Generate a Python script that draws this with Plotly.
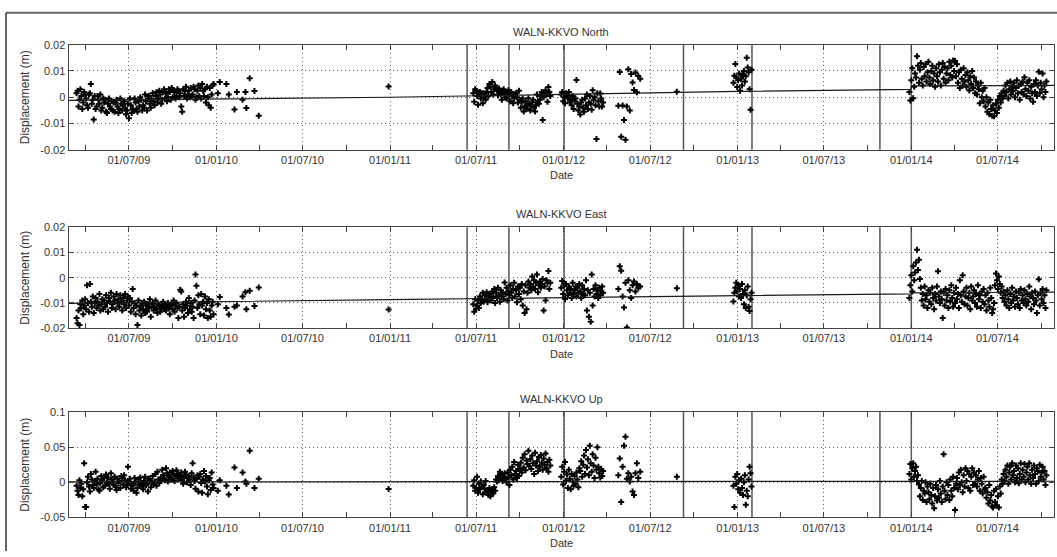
import pandas as pd
import plotly.graph_objects as go

# ---------------- DATA ----------------
# Epoch of each daily GPS solution, as day number counted from 2009-01-01
DAYS = [
    # 2009 block
    71,73,75,77,79,81,83,85,87,89,
    91,93,95,97,99,101,103,105,107,109,
    111,113,115,117,119,121,123,125,127,129,
    131,133,135,137,139,141,143,145,147,149,
    151,153,155,157,159,161,163,165,167,169,
    171,173,175,177,179,181,183,185,187,189,
    191,193,195,197,199,201,203,205,207,209,
    211,213,215,217,219,221,223,225,227,229,
    231,233,235,237,239,241,243,245,247,249,
    251,253,255,257,259,261,263,265,267,269,
    271,273,275,277,279,281,283,285,287,289,
    291,293,295,297,299,301,303,305,307,309,
    311,313,315,317,319,321,323,325,327,329,
    331,333,335,337,339,341,343,345,347,349,
    351,353,355,357,359,
    # early 2010, sparse
    368,372,386,391,403,408,420,426,428,435,445,454,
    # single epoch end 2010
    727,
    # mid/late 2011
    905,907,909,911,913,915,917,919,921,923,
    925,927,929,931,933,935,937,939,941,943,
    945,947,949,951,953,955,957,959,961,963,
    965,967,969,971,973,975,977,979,981,983,
    985,987,989,991,993,995,997,999,1001,1003,
    1005,1007,1009,1011,1013,1015,1017,1019,1021,1023,
    1025,1027,1029,1031,1033,1035,1037,1039,1041,1043,
    1045,1047,1049,1051,1053,1055,1057,1059,1061,1063,
    1065,1067,
    # early 2012
    1090,1092,1094,1096,1098,1100,1102,1104,1106,1108,
    1110,1112,1114,1116,1118,1120,1122,1124,1126,1128,
    1130,1132,1134,1136,1138,1140,1142,1144,1146,1148,
    1150,1152,1154,1156,1158,1160,1162,1164,1166,1168,
    1170,1172,1174,1176,1178,
    # May-June 2012
    1210,1213,1216,1219,1222,1225,1228,1231,1234,1237,1240,1243,1246,1249,1252,1256,
    # single epoch Aug 2012
    1333,
    # Jan 2013
    1452,1454,1456,1458,1460,1462,1464,1466,1468,1470,
    1472,1474,1476,1478,1480,1482,1484,1486,1488,1490,
    # 2014
    1822,1824,1826,1828,1830,1832,1834,1836,1838,1840,
    1842,1844,1846,1848,1850,1852,1854,1856,1858,1860,
    1862,1864,1866,1868,1870,1872,1874,1876,1878,1880,
    1882,1884,1886,1888,1890,1892,1894,1896,1898,1900,
    1902,1904,1906,1908,1910,1912,1914,1916,1918,1920,
    1922,1924,1926,1928,1930,1932,1934,1936,1938,1940,
    1942,1944,1946,1948,1950,1952,1954,1956,1958,1960,
    1962,1964,1966,1968,1970,1972,1974,1976,1978,1980,
    1982,1984,1986,1988,1990,1992,1994,1996,1998,2000,
    2002,2004,2006,2008,2010,2012,2014,2016,2018,2020,
    2022,2024,2026,2028,2030,2032,2034,2036,2038,2040,
    2042,2044,2046,2048,2050,2052,2054,2056,2058,2060,
    2062,2064,2066,2068,2070,2072,2074,2076,2078,2080,
    2082,2084,2086,2088,2090,2092,2094,2096,2098,2100,
    2102,2104,2106,2108,2110,
]

# Displacements in millimetres
NORTH_MM = [
    1.5,2.5,-3.5,-1.0,3.0,0.5,-4.5,-2.0,2.0,1.0,
    -0.5,-3.0,-4.0,1.0,1.5,5.0,-2.5,-1.0,-8.5,0.5,
    -4.5,-3.5,0.5,-1.0,-2.5,1.0,-5.0,-4.0,-0.5,-2.0,
    -1.0,-5.5,-6.0,-2.5,-0.5,-3.5,-4.5,-1.5,-5.0,-2.0,
    -5.5,-2.0,-1.0,-3.5,-6.0,-4.5,-0.5,-2.5,-5.0,-3.0,
    -1.5,-4.0,-6.5,-5.0,-2.5,-8.0,-0.5,-3.0,-6.0,-4.5,
    -5.0,-0.5,-2.0,-4.5,-5.5,-1.5,-3.5,0.0,-1.0,-5.0,
    -3.0,-4.0,1.0,-1.5,-5.0,-0.5,0.5,-2.5,-4.0,-1.0,
    1.5,-1.5,-3.0,0.5,2.0,-2.0,-0.5,2.5,1.0,-2.5,
    -1.0,2.0,3.0,-0.5,1.5,-1.5,0.0,3.0,2.0,-1.0,
    3.5,0.0,2.5,2.0,-0.5,0.5,3.0,2.5,0.0,1.5,
    -3.5,-5.5,3.0,0.5,2.5,4.0,-0.5,1.0,2.5,0.0,
    3.5,0.5,1.0,4.0,3.0,-1.0,0.0,2.5,4.5,0.5,
    3.5,-0.5,5.0,2.5,0.5,3.0,-2.0,4.0,0.0,-3.0,
    3.5,-4.0,1.0,4.5,5.0,
    1.5,5.8,5.0,1.0,-4.7,2.0,-1.0,2.0,-4.1,7.2,2.4,-7.0,
    4.1,
    1.5,-1.7,3.0,2.5,0.5,-2.9,1.0,2.0,-0.5,1.5,
    -2.3,1.5,0.0,-1.0,2.0,3.5,0.5,5.0,4.0,2.0,
    5.8,1.0,3.0,4.5,3.5,2.5,0.8,3.3,2.0,1.0,
    -1.0,2.5,3.0,1.5,0.0,-0.5,2.0,2.7,1.0,-1.5,
    2.0,0.5,-2.3,-0.5,1.0,1.5,0.0,-2.0,2.5,-1.0,
    -4.0,-2.0,-0.5,-5.4,-3.5,-1.5,-4.5,-3.0,-0.4,-2.5,
    -5.0,-3.5,-2.0,-1.0,-4.0,-5.4,-3.0,1.0,-1.5,-2.5,
    -1.0,0.5,2.0,-8.7,0.0,1.5,2.7,1.0,-1.7,3.9,
    2.0,0.5,
    1.0,2.0,-1.5,0.0,-2.3,1.5,0.5,-0.5,2.0,-2.0,
    -1.0,-3.0,0.5,-4.5,-1.5,-0.5,6.6,-2.5,-5.0,-3.5,
    -6.6,-2.0,-1.0,-4.0,-5.5,-0.5,-3.0,1.0,-4.5,-2.0,
    0.5,-2.5,-4.8,2.7,-1.0,0.0,-3.0,-15.9,1.5,-1.5,
    -3.5,1.4,-0.5,-3.5,-2.0,
    -3.2,9.6,-15.0,-3.1,-8.7,-16.2,-3.5,10.6,-5.0,8.8,5.6,2.8,9.4,1.9,8.1,7.0,
    2.1,
    5.5,8.2,12.6,7.5,3.9,6.5,9.0,2.5,7.0,4.5,
    8.5,10.0,6.0,8.0,15.0,11.3,9.5,3.0,-4.8,10.5,
    2.0,-1.2,6.5,11.0,-0.4,4.0,9.0,7.5,15.6,12.0,
    5.5,10.5,13.0,7.0,4.5,11.5,8.0,12.5,6.0,9.5,
    13.5,7.5,5.0,10.0,12.0,6.5,9.0,4.0,11.0,8.0,
    6.0,12.5,9.5,4.5,10.5,13.0,7.0,11.5,5.5,9.0,
    11.0,6.5,13.5,8.5,12.0,7.5,14.0,10.0,13.8,8.0,
    12.5,5.5,9.5,3.5,10.5,7.0,4.5,11.0,6.0,8.5,
    4.0,9.5,6.5,2.6,8.0,5.0,10.0,3.5,7.5,1.5,
    6.0,1.0,4.5,3.0,-2.3,5.5,0.0,2.5,-1.5,3.5,
    -3.5,0.0,-5.5,-2.0,-6.5,-1.0,-4.5,-7.0,-3.0,-7.2,
    -5.0,-2.5,-6.0,-1.0,-4.0,0.5,-2.0,1.5,-0.5,2.5,
    0.5,4.5,2.0,5.5,-0.5,3.0,6.0,1.0,4.0,2.5,
    5.5,0.0,3.5,6.5,1.5,4.5,-1.0,5.0,2.0,6.0,
    1.0,7.6,3.0,0.5,5.5,2.5,6.5,-0.5,4.0,1.5,
    -1.7,5.0,2.0,6.5,0.5,4.5,9.7,1.5,5.5,3.0,
    9.0,0.0,4.5,2.0,6.0,
]

EAST_MM = [
    -16.0,-18.0,-13.0,-18.7,-10.5,-12.0,-9.0,-14.5,-11.0,-8.5,
    -12.5,-3.0,-10.0,-13.5,-2.5,-9.5,-11.5,-7.5,-14.0,-10.0,
    -8.0,-12.0,-9.5,-11.0,-6.5,-13.0,-10.5,-8.5,-12.5,-9.0,
    -11.5,-7.0,-10.0,-13.5,-8.0,-9.5,-6.0,-12.0,-10.5,-7.5,
    -9.0,-12.5,-6.5,-10.0,-8.5,-11.5,-7.0,-9.5,-13.0,-8.0,
    -10.5,-6.5,-12.0,-9.0,-7.5,-11.0,-8.0,-13.5,-9.5,-4.5,
    -12.0,-10.0,-14.5,-11.0,-18.7,-9.0,-13.0,-11.5,-15.0,-10.0,
    -12.5,-9.5,-14.0,-11.0,-13.5,-10.5,-12.0,-8.5,-15.5,-11.5,
    -10.0,-13.0,-11.5,-9.0,-12.5,-14.0,-10.5,-11.0,-13.5,-12.0,
    -11.0,-9.5,-12.5,-10.5,-13.0,-11.5,-10.0,-12.0,-14.5,-11.0,
    -10.5,-12.5,-9.0,-13.5,-11.0,-10.0,-12.0,-16.0,-11.5,-4.8,
    -5.5,-13.0,-10.5,-15.5,-12.0,-9.5,-11.0,-14.0,-8.0,-12.5,
    -10.0,-13.5,-11.5,-16.0,-9.0,1.3,-3.2,-12.0,-7.0,-10.5,
    -14.5,-6.5,-11.0,-9.5,-15.0,-7.5,-12.5,-10.0,-16.0,-8.5,
    -13.0,-15.5,-11.0,-9.5,-14.5,
    -10.5,-7.7,-12.0,-14.6,-11.5,-11.0,-7.5,-5.8,-12.5,-5.2,-11.2,-3.9,
    -12.6,
    -10.5,-13.5,-8.5,-12.3,-11.0,-9.0,-12.0,-7.5,-10.0,-8.5,
    -6.0,-9.5,-7.0,-8.5,-5.8,-9.7,-7.5,-6.5,-8.0,-9.0,
    -5.5,-7.5,-4.5,-10.0,-6.0,-8.0,-4.0,-7.0,-9.5,-5.0,
    -7.5,-6.0,-8.5,-1.9,-6.5,-4.0,-9.0,-5.5,-7.0,-3.0,
    -6.0,-8.0,-4.5,-2.0,-7.5,-5.0,-9.7,-3.5,-6.5,-4.0,
    -8.5,-2.5,-11.0,-5.5,-14.0,-3.0,-12.5,-6.0,-1.5,-4.0,
    -2.5,-5.0,0.5,-3.5,-1.0,-4.5,-2.0,1.3,-5.8,-3.0,
    -1.5,-4.0,-2.5,-0.5,-13.0,-3.5,-9.0,-1.0,-2.0,2.6,
    -4.5,-2.0,
    -4.0,-1.3,-6.5,-3.0,-8.4,-2.5,-5.0,-7.0,-3.5,-6.0,
    -4.5,-8.0,-2.0,-6.5,-5.0,-3.5,-7.5,-4.0,-6.0,-2.5,
    -5.5,-8.0,-3.0,-6.5,-4.5,-7.0,-1.0,-13.0,-5.0,-15.5,
    -6.0,-17.4,1.3,-11.0,-4.5,-7.5,-3.0,-6.5,-5.0,-8.0,
    -4.0,-7.0,-5.5,-3.5,-6.0,
    -4.5,4.5,2.7,-7.5,-11.8,-2.0,-19.7,-1.0,-5.0,-8.0,-3.0,-1.5,-5.5,-2.5,-4.0,-3.5,
    -4.2,
    -9.4,-6.0,-4.0,-2.0,-5.5,-3.0,-7.5,-4.5,-8.0,-2.5,
    -6.5,-10.5,-5.0,-12.0,-7.0,-3.5,-11.5,-13.2,-8.5,-6.0,
    -8.0,-3.0,1.0,-5.5,4.5,-1.0,2.0,6.0,11.0,3.0,
    7.1,-0.5,-4.0,-9.0,-6.5,-11.0,-3.5,-8.5,-7.0,-12.0,
    -5.0,-9.5,-6.0,-10.5,-4.0,-8.0,-12.5,-6.5,-9.0,-3.5,
    2.5,-7.5,-10.0,-5.5,-8.5,-16.0,-6.0,-11.0,-4.5,-9.0,
    -7.0,-12.0,-5.0,-9.5,-3.0,-8.0,-11.5,-6.0,-10.0,-4.0,
    -8.5,-6.5,-12.0,-1.0,-7.0,-9.5,1.0,-5.5,-10.5,-7.5,
    -4.0,-11.0,-8.0,-6.0,-12.5,-3.5,-9.0,-7.5,-5.0,-10.0,
    -6.5,-11.5,-3.0,-8.5,-7.0,-12.0,-5.5,-9.5,-4.5,-10.5,
    -7.0,-13.0,-6.0,-9.0,-11.5,-4.0,-8.0,-14.0,-12.5,-10.0,
    -3.0,1.6,-1.0,-4.5,0.5,-2.5,-6.0,-3.5,-8.0,-5.5,
    -9.5,-7.0,-11.0,-5.0,-8.5,-12.0,-6.5,-10.0,-4.0,-9.0,
    -7.5,-11.5,-5.5,-8.0,-10.5,-6.0,-12.0,-4.5,-9.0,-7.0,
    -10.0,-5.0,-8.5,-11.0,-6.5,-9.5,-3.5,-7.5,-12.5,-6.0,
    -8.0,-10.5,-5.5,-9.0,-14.0,-7.0,-0.6,-11.0,-6.0,-8.5,
    -4.5,-10.0,-7.0,-12.0,-5.0,
]

UP_MM = [
    -5,-12,-18,3,-8,-2,-20,-10,27,-35,
    -35,0,8,-6,-13,12,4,-4,-8,2,
    15,-3,5,-10,-12,-1,9,3,-7,6,
    -5,11,0,7,-2,-9,13,4,1,-4,
    8,-6,-11,5,-1,2,-8,9,6,-3,
    10,3,-7,-4,22,1,5,-9,-2,-5,
    -12,6,0,-15,-8,4,-3,7,-1,-6,
    -10,2,8,-4,-2,-13,5,3,-7,0,
    9,-3,1,12,-5,15,4,-1,2,7,
    18,10,5,3,20,13,1,8,14,6,
    4,16,11,2,9,17,12,5,7,10,
    14,3,-2,8,15,11,0,6,9,4,
    -4,13,27,7,2,-9,5,10,-13,8,
    12,-1,-15,4,16,1,9,-6,-17,3,
    6,-11,14,-3,-8,
    -12,3,-5,-17.5,21,-8,14,1,-2,45,-8,5,
    -9.4,
    -5,3,-12,-8,8,-15,-2,-10,1,-6,
    -17,-4,-9,2,-14,-11,-18,-8,-20,-13,
    -10,-16,-7,-12,4,1,9,3,15,6,
    11,2,8,13,5,0,14,7,-4,18,
    10,22,4,29,12,16,6,25,9,19,
    28,14,35,21,40,17,31,26,45,23,
    33,19,38,27,12,42,24,30,16,36,
    22,39,28,18,34,25,41,20,29,15,
    32,24,
    8,22,-3,15,29,2,11,-8,18,5,
    -10,12,1,-5,9,-2,14,4,-7,20,
    16,30,8,25,38,12,46,21,33,10,
    52,27,15,40,24,6,35,18,50,22,
    13,7,19,9,16,
    10,34,-28,22,52,65,5,13,1,8,-13,-18,13,27,6,15,
    8,
    -5,-35,8,-2,12,-10,3,-15,5,-8,
    -18,0,10,-32,-12,-20,4,22,13,-6,
    12,26,4,20,27,8,16,22,2,10,
    -3,-20,-8,2,-25,-12,-16,0,-28,-6,
    -14,-24,-2,-18,-30,-8,-37,-20,-4,-26,
    -10,-22,2,-16,-28,-6,40,-12,-24,0,
    -18,-4,-25,4,-12,-20,8,-8,-39.5,-2,
    6,-10,14,-4,18,0,-14,10,-6,20,
    2,16,-8,12,-12,8,20,-4,14,-2,
    10,-6,4,16,-12,6,-2,-16,8,-10,
    -8,-22,-14,-30,-4,-26,-18,-34,-36,-12,
    -28,-10,-33,-20,-36,-6,-16,4,-2,12,
    2,18,8,24,-2,14,22,4,27,10,
    16,0,24,6,20,-1.4,12,27,4,18,
    8,26,0,14,22,4,27,10,-2,18,
    6,24,12,-2,20,16,2,25,8,14,
    22,4,16,-4,10,
]

# Fitted trend (mm) at break days
TREND_DAYS = [55, 365, 730, 1095, 1461, 1825, 1826, 2126]
TREND_NORTH_MM = [-1.2, -0.7, 0.0, 1.1, 2.2, 3.0, 4.3, 4.5]
TREND_EAST_MM = [-10.2, -9.4, -8.7, -7.9, -7.2, -6.4, -6.0, -5.7]
TREND_UP_MM = [0.5, 0.7, 0.8, 1.0, 1.2, 1.4, 1.4, 1.5]

# Equipment-change epochs (vertical lines)
EVENT_DATES = ["2011-06-12", "2011-09-08", "2012-01-02", "2012-09-09",
               "2013-01-31", "2013-10-27", "2014-01-01"]

TITLES = ["WALN-KKVO North", "WALN-KKVO East", "WALN-KKVO Up"]
Y_TICKVALS = [[-0.02, -0.01, 0, 0.01, 0.02],
              [-0.02, -0.01, 0, 0.01, 0.02],
              [-0.05, 0, 0.05, 0.1]]
Y_TICKTEXT = [["-0.02", "-0.01", "0", "0.01", "0.02"],
              ["-0.02", "-0.01", "0", "0.01", "0.02"],
              ["-0.05", "0", "0.05", "0.1"]]
Y_RANGES = [[-0.02, 0.02], [-0.02, 0.02], [-0.05, 0.1]]
X_RANGE = ["2009-02-24", "2014-10-28"]

assert len(DAYS) == len(NORTH_MM) == len(EAST_MM) == len(UP_MM)

# ---------------- FIGURE ----------------
W, H = 1057, 557
EPOCH = pd.Timestamp("2009-01-01")
dates = EPOCH + pd.to_timedelta(DAYS, unit="D")
tdates = EPOCH + pd.to_timedelta(TREND_DAYS, unit="D")

def px_x(p):
    return p / W

def px_y(p):
    return 1 - p / H

FONT = dict(family="Liberation Sans, Arial, sans-serif", size=11, color="#333333")
AX_COLOR = "#444444"
GRID = dict(showgrid=True, gridcolor="#666666", griddash="1px,3px", gridwidth=1)

# panel pixel boxes (top, bottom)
PANELS = [(39.5, 147.0), (226.0, 329.3), (415.0, 522.7)]
XDOM = [px_x(68.5), px_x(1054)]

fig = go.Figure()
series = [NORTH_MM, EAST_MM, UP_MM]
trends = [TREND_NORTH_MM, TREND_EAST_MM, TREND_UP_MM]

layout = dict(width=W, height=H, margin=dict(l=0, r=0, t=0, b=0),
              paper_bgcolor="white", plot_bgcolor="white", showlegend=False,
              font=FONT)
shapes, annotations = [], []

for i in range(3):
    sfx = "" if i == 0 else str(i + 1)
    xa, ya = "x" + sfx, "y" + sfx
    top, bot = PANELS[i]
    fig.add_trace(go.Scatter(
        x=dates, y=[v / 1000 for v in series[i]], mode="markers",
        marker=dict(symbol="cross", size=5, color="black",
                    line=dict(width=0)),
        xaxis=xa, yaxis=ya, hoverinfo="skip"))
    fig.add_trace(go.Scatter(
        x=tdates, y=[v / 1000 for v in trends[i]], mode="lines",
        line=dict(color="#1a1a1a", width=1.2), xaxis=xa, yaxis=ya,
        hoverinfo="skip"))
    layout["xaxis" + sfx] = dict(
        domain=XDOM, anchor=ya, type="date", range=X_RANGE,
        tickformat="%d/%m/%y", dtick="M6", tick0="2009-01-01",
        ticks="inside", ticklen=5, tickcolor=AX_COLOR,
        showline=True, linecolor=AX_COLOR, linewidth=1, mirror="ticks",
        zeroline=False, tickfont=FONT,
        minor=dict(dtick="M3", tick0="2009-01-01", ticks="inside",
                   ticklen=5, tickcolor=AX_COLOR, showgrid=False),
        **GRID)
    layout["yaxis" + sfx] = dict(
        domain=[px_y(bot), px_y(top)], anchor=xa, range=Y_RANGES[i],
        tickvals=Y_TICKVALS[i], ticktext=Y_TICKTEXT[i],
        ticks="inside", ticklen=5, tickcolor=AX_COLOR,
        showline=True, linecolor=AX_COLOR, linewidth=1, mirror="ticks",
        zeroline=False, tickfont=FONT, **GRID)
    for d in EVENT_DATES:
        shapes.append(dict(type="line", xref=xa, yref=ya + " domain",
                           x0=d, x1=d, y0=0, y1=1, layer="below",
                           line=dict(color="#555555", width=1.5)))
    annotations.append(dict(text=TITLES[i], xref="paper", yref="paper",
                            x=(XDOM[0] + XDOM[1]) / 2, y=px_y(top - 13),
                            showarrow=False, xanchor="center", yanchor="middle",
                            font=FONT))
    annotations.append(dict(text="Date", xref="paper", yref="paper",
                            x=(XDOM[0] + XDOM[1]) / 2, y=px_y(bot + 26),
                            showarrow=False, xanchor="center", yanchor="middle",
                            font=FONT))
    annotations.append(dict(text="Displacement (m)", xref="paper", yref="paper",
                            x=px_x(25), y=px_y((top + bot) / 2), textangle=-90,
                            showarrow=False, xanchor="center", yanchor="middle",
                            font=dict(family=FONT["family"], size=12, color="#333333")))

# outer figure frame
shapes.append(dict(type="line", xref="paper", yref="paper",
                   x0=px_x(6), x1=1.0, y0=px_y(7), y1=px_y(7),
                   line=dict(color="#666666", width=2)))
shapes.append(dict(type="line", xref="paper", yref="paper",
                   x0=px_x(6), x1=px_x(6), y0=0, y1=px_y(7),
                   line=dict(color="#333333", width=1.5)))

layout["shapes"] = shapes
layout["annotations"] = annotations
fig.update_layout(**layout)
fig.write_html("out.html")
